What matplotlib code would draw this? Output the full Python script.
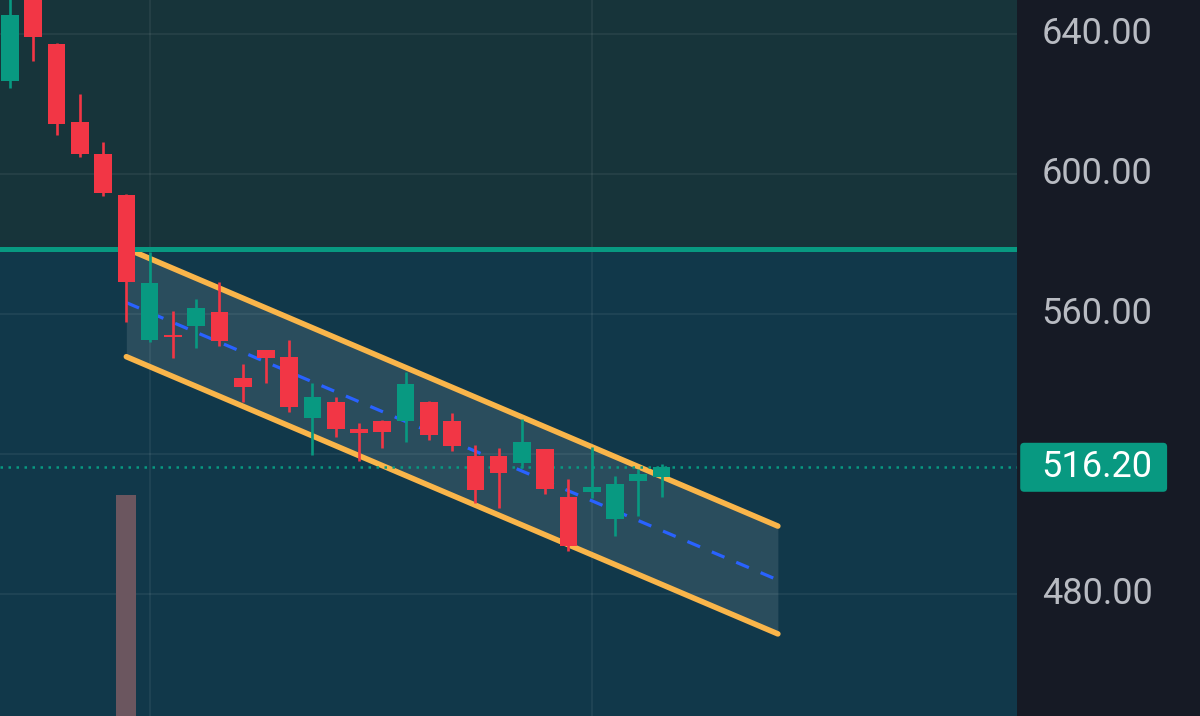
import numpy as np
import matplotlib
matplotlib.use("Agg")
import matplotlib.pyplot as plt
from matplotlib.patches import FancyBboxPatch

# bougies (index 0 = premiere bougie visible a gauche)
ouv = [626.6, 652.0, 637.1, 614.9, 605.8, 594.0, 552.6, 554.0, 556.7, 560.6,
       541.7, 549.6, 547.7, 530.4, 534.8, 527.2, 529.4, 529.5, 534.8, 529.5,
       519.5, 519.5, 517.5, 521.3, 507.6, 509.2, 501.3, 512.4, 513.5]
haut = [651.0, 653.0, 637.4, 622.8, 609.2, 594.3, 577.8, 560.9, 564.2, 569.2,
        545.7, 549.8, 552.6, 540.4, 536.2, 528.8, 529.6, 543.5, 535.0, 531.6,
        522.5, 521.6, 530.1, 521.5, 512.9, 521.9, 513.7, 515.6, 517.1]
bas = [624.7, 632.3, 611.1, 604.9, 593.8, 557.8, 551.9, 547.4, 550.2, 550.9,
       534.9, 540.2, 532.1, 519.7, 524.8, 518.1, 521.6, 523.3, 524.0, 520.9,
       506.1, 504.5, 515.9, 508.6, 492.4, 507.3, 496.6, 502.4, 507.6]
ferm = [645.4, 639.2, 614.3, 605.6, 594.5, 569.1, 568.8, 553.4, 561.6, 552.3,
        539.2, 547.5, 533.5, 536.4, 527.1, 525.9, 526.3, 540.0, 525.3, 522.3,
        509.8, 514.6, 523.4, 510.1, 493.8, 510.7, 511.4, 514.2, 516.2]

# volume (seule barre visible)
vol_idx = [5]
vol_val = [30.9]

# canal descendant : index debut/fin, haut et bas
canal_x = [5, 33]
canal_haut = [578.7, 499.4]
canal_bas = [547.8, 468.6]

niveau = 578.6
dernier = 516.20
graduations = [480, 520, 560, 600, 640]
etiquettes = [480, 560, 600, 640]
grille_x = [6, 25]

VERT = "#089981"
ROUGE = "#f23645"
JAUNE = "#f9b54a"
BLEU = "#2962ff"
FOND_HAUT = "#17343a"
FOND_BAS = "#11384a"
PANNEAU = "#161a25"

plt.rcParams["font.family"] = ["Roboto", "DejaVu Sans"]

fig = plt.figure(figsize=(12, 7.16), dpi=100)
fig.patch.set_facecolor(PANNEAU)

l_plot = 1017.3 / 1200
ax = fig.add_axes([0, 0, l_plot, 1])
ax.set_facecolor(FOND_BAS)
ymin, ymax = 445.14, 649.71
ax.set_ylim(ymin, ymax)
ax.set_xlim(-0.43, 43.29)
ax.axhspan(niveau, ymax, color=FOND_HAUT, zorder=0)

for g in graduations:
    ax.axhline(g, color="white", alpha=0.07, lw=1.2, zorder=1)
for gx in grille_x:
    ax.axvline(gx, color="white", alpha=0.07, lw=1.2, zorder=1)

# canal
xs = np.array(canal_x, dtype=float)
ax.fill_between(xs, canal_bas, canal_haut, color="#c8d2d7", alpha=0.14,
                lw=0, zorder=2)
milieu = [(h + b) / 2 for h, b in zip(canal_haut, canal_bas)]
ax.plot(xs, milieu, color=BLEU, lw=2.3, dashes=(4.3, 4), zorder=3)
ax.plot(xs, canal_haut, color=JAUNE, lw=4.0, solid_capstyle="round", zorder=3)
ax.plot(xs, canal_bas, color=JAUNE, lw=4.0, solid_capstyle="round", zorder=3)

# niveau horizontal + dernier prix
ax.axhline(niveau, color=VERT, lw=3.6, zorder=3)
ax.axhline(dernier, color=VERT, lw=1.8, dashes=(1, 2.2), zorder=3)

# bougies
idx = np.arange(len(ouv))
o = np.array(ouv)
c = np.array(ferm)
couleurs = [VERT if cc >= oo else ROUGE for oo, cc in zip(o, c)]
ax.vlines(idx, bas, haut, colors=couleurs, lw=1.9, zorder=4)
corps = np.maximum(np.abs(c - o), 0.5)
ax.bar(idx, corps, bottom=np.minimum(o, c), width=0.76, color=couleurs,
       lw=0, zorder=5)

ax.set_xticks([])
ax.set_yticks([])
for s in ax.spines.values():
    s.set_visible(False)

# volume
axv = ax.twinx()
axv.set_ylim(0, 100)
axv.bar(vol_idx, vol_val, width=0.86, color="#6b565f", lw=0)
axv.set_axis_off()

# echelle de prix a droite
axp = fig.add_axes([l_plot, 0, 1 - l_plot, 1])
axp.set_facecolor(PANNEAU)
axp.set_ylim(ymin, ymax)
axp.set_xlim(0, 1)
axp.set_axis_off()
tr = axp.get_yaxis_transform()
for e in etiquettes:
    axp.text(0.74, e, f"{e:.2f}", transform=tr, ha="right", va="center",
             fontsize=26, color="#b8bbc2")
boite = FancyBboxPatch((0.016, dernier - 7.0), 0.804, 14.0,
                       boxstyle="round,pad=0,rounding_size=0.022",
                       mutation_aspect=52, transform=tr, fc=VERT, ec="none")
axp.add_patch(boite)
axp.text(0.74, dernier, f"{dernier:.2f}", transform=tr, ha="right",
         va="center", fontsize=26, color="white")

fig.savefig("out.png", dpi=100, facecolor=fig.get_facecolor())
